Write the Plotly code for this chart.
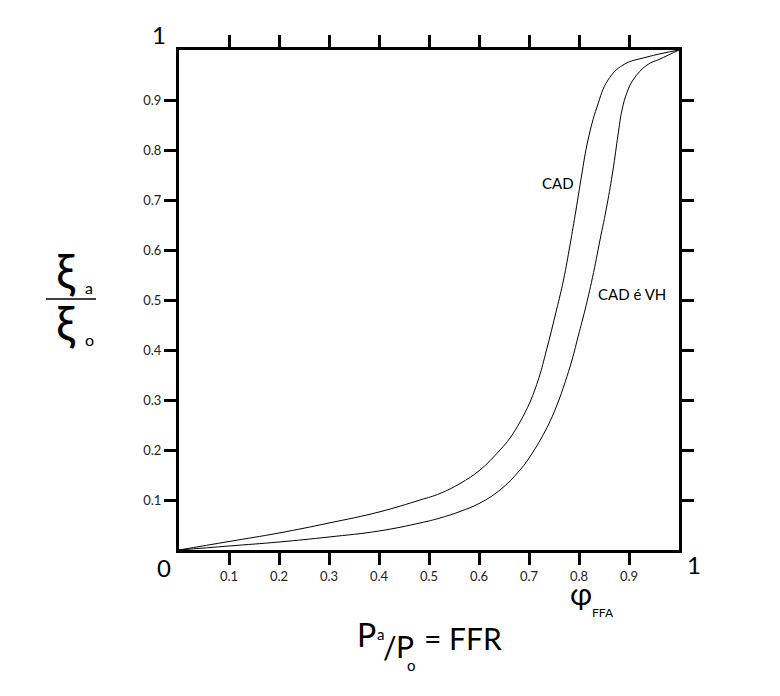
import plotly.graph_objects as go

# CAD curve
cad_x = [0, 0.1, 0.2, 0.3, 0.4, 0.482, 0.522, 0.562, 0.602, 0.642, 0.662, 0.682, 0.702, 0.72, 0.735, 0.755, 0.769, 0.782, 0.794, 0.805, 0.818, 0.836, 0.858, 0.888, 0.936, 1.0]
cad_y = [0, 0.017, 0.034, 0.054, 0.076, 0.100, 0.113, 0.133, 0.160, 0.200, 0.224, 0.256, 0.296, 0.345, 0.400, 0.480, 0.540, 0.610, 0.680, 0.748, 0.820, 0.886, 0.940, 0.970, 0.986, 1.0]

# CAD é VH curve
vh_x = [0, 0.1, 0.2, 0.3, 0.4, 0.482, 0.522, 0.562, 0.602, 0.642, 0.682, 0.708, 0.736, 0.756, 0.772, 0.786, 0.799, 0.812, 0.827, 0.842, 0.856, 0.868, 0.878, 0.886, 0.896, 0.908, 0.936, 0.962, 1.0]
vh_y = [0, 0.008, 0.016, 0.026, 0.038, 0.054, 0.064, 0.077, 0.094, 0.120, 0.160, 0.196, 0.245, 0.290, 0.335, 0.380, 0.430, 0.480, 0.545, 0.620, 0.690, 0.760, 0.830, 0.880, 0.915, 0.940, 0.970, 0.982, 1.0]

tick_vals = [0.1, 0.2, 0.3, 0.4, 0.5, 0.6, 0.7, 0.8, 0.9]
tick_text = ["0.1", "0.2", "0.3", "0.4", "0.5", "0.6", "0.7", "0.8", "0.9"]

FONT = "Lato"

fig = go.Figure()
fig.add_trace(go.Scatter(x=cad_x, y=cad_y, mode="lines", line=dict(color="black", width=1, shape="spline", smoothing=1.2), showlegend=False))
fig.add_trace(go.Scatter(x=vh_x, y=vh_y, mode="lines", line=dict(color="black", width=1, shape="spline", smoothing=1.2), showlegend=False))

axis_common = dict(range=[0, 1], showline=True, linewidth=3, linecolor="black", mirror="allticks",
                   ticks="outside", ticklen=12, tickwidth=3, tickcolor="black",
                   tickvals=tick_vals, ticktext=tick_text, showgrid=False, zeroline=False,
                   tickfont=dict(family=FONT, size=13, color="#222"))

# the page body adds an 8px offset; margins compensate so the plot area lands at 179..679 / 50..550
fig.update_layout(
    width=780, height=696,
    margin=dict(l=171, r=109, t=42, b=154),
    plot_bgcolor="white", paper_bgcolor="white",
    xaxis=dict(**axis_common),
    yaxis=dict(**axis_common),
    font=dict(family=FONT, color="black"),
)

def ann(text, x, y, size, xanchor="center", yanchor="middle", color="black"):
    fig.add_annotation(text=text, x=x, y=y, xref="paper", yref="paper", showarrow=False,
                       font=dict(family=FONT, size=size, color=color), xanchor=xanchor, yanchor=yanchor)

# paper coordinates helpers (plot area 179..679 x, 50..550 y on screen)
def px(xp):
    return (xp - 179) / 500.0

def py(yp):
    return (550 - yp) / 500.0

ann("0", px(164), py(567), 24)
ann("1", px(159), py(35), 24)
ann("1", px(694), py(564), 24)

fig.add_annotation(text="CAD", x=0.794, y=0.735, xref="x", yref="y", showarrow=False,
                   xanchor="right", font=dict(family=FONT, size=15, color="black"))
fig.add_annotation(text="CAD é VH", x=0.834, y=0.512, xref="x", yref="y", showarrow=False,
                   xanchor="left", font=dict(family=FONT, size=15, color="black"))

# phi FFA
ann("φ", px(581), py(593), 30)
ann("FFA", px(590), py(612), 12, xanchor="left")

# x title
ann("P", px(366), py(634), 32)
ann("a", px(380), py(634), 15)
ann("/", px(390), py(647), 30)
ann("P", px(405), py(646), 30)
ann("o", px(411), py(665), 15)
ann("= FFR", px(422), py(638), 30, xanchor="left")

# y title
ann("ξ", px(66), py(270), 48)
ann("a", px(89), py(287), 16)
ann("ξ", px(66), py(322), 48)
ann("o", px(89), py(339), 16)
fig.add_shape(type="line", xref="paper", yref="paper", x0=px(46), x1=px(96), y0=py(299), y1=py(299),
              line=dict(color="black", width=1.5))

fig.write_html("out.html")
